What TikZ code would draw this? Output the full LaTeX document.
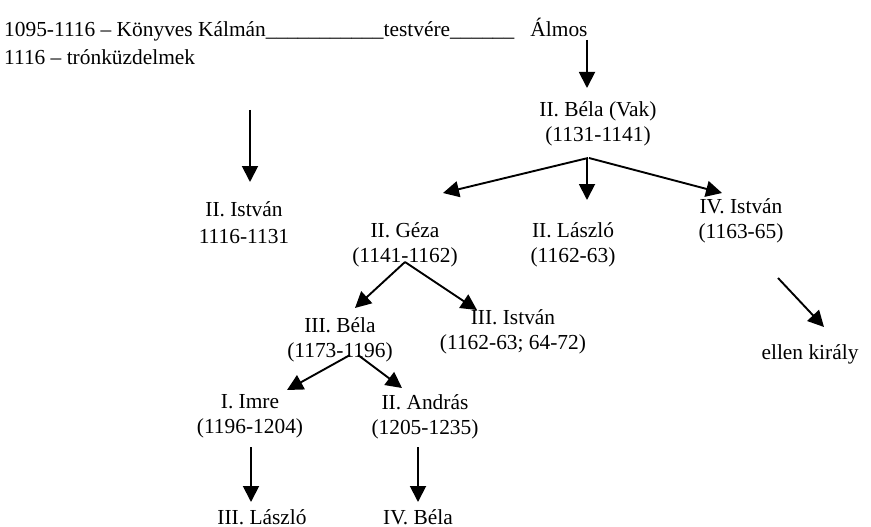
\documentclass[tikz,border=0pt]{standalone}
\usepackage{fontspec}
\setmainfont{Liberation Serif}
\usetikzlibrary{arrows.meta,calc}
\begin{document}
\begin{tikzpicture}[x=1pt,y=-1pt,
  lbl/.style={font=\fontsize{21.4}{25}\selectfont, inner sep=0pt, align=center},
  arr/.style={line width=1.9pt, -{Triangle[length=16pt,width=16pt]}}]
\useasboundingbox (0,0) rectangle (871,527);
% text nodes
\node[lbl, anchor=base west] (head1) at (4,37) {1095-1116 – Könyves Kálmán\_\_\_\_\_\_\_\_\_\_\_testvére\_\_\_\_\_\_};
\node[lbl, anchor=base west] (head2) at (4,65) {1116 – trónküzdelmek};
\node[lbl, anchor=base] (almos) at (559,37) {Álmos};
\node[lbl] (bela2) at (598,124) {II. Béla (Vak)\\(1131-1141)};
\node[lbl] (istvan2) at (244,222.5) {II. István\\[2pt]1116-1131};
\node[lbl] (geza) at (405,245) {II. Géza\\(1141-1162)};
\node[lbl] (laszlo2) at (573,245) {II. László\\(1162-63)};
\node[lbl] (istvan4) at (741,220.5) {IV. István\\(1163-65)};
\node[lbl] (bela3) at (340,339.5) {III. Béla\\(1173-1196)};
\node[lbl] (istvan3) at (513,331.5) {III. István\\(1162-63; 64-72)};
\node[lbl, anchor=base] (ellen) at (810,359) {ellen király};
\node[lbl] (imre) at (250,416.5) {I. Imre\\(1196-1204)};
\node[lbl] (andras) at (425,416.5) {II. András\\(1205-1235)};
\node[lbl, anchor=base] (laszlo3) at (262,524) {III. László};
\node[lbl, anchor=base] (bela4) at (418,524) {IV. Béla};
\coordinate (istvantop) at (250,110);
% connectors
\draw[arr] ($(almos.base)+(28,3)$) -- ($(bela2)+(-11,-36)$);
\draw[arr] ($(bela2)+(-10,34)$) -- ($(geza)+(38,-52)$);
\draw[arr] ($(bela2)+(-11,34)$) -- ($(laszlo2)+(14,-45)$);
\draw[arr] ($(bela2)+(-9,34)$) -- ($(istvan4)+(-19,-27.5)$);
\draw[arr] (istvantop) -- ($(istvan2)+(6,-40.5)$);
\draw[arr] ($(geza)+(0,17)$) -- ($(bela3)+(15,-31.5)$);
\draw[arr] ($(geza)+(0,17)$) -- ($(istvan3)+(-36,-21.5)$);
\draw[arr] ($(bela3)+(10,15.5)$) -- ($(imre)+(37,-26.5)$);
\draw[arr] ($(bela3)+(18,15.5)$) -- ($(andras)+(-23,-28.5)$);
\draw[arr] ($(istvan4)+(37,57.5)$) -- ($(ellen.base)+(14,-32)$);
\draw[arr] ($(imre)+(1,30.5)$) -- ($(laszlo3.base)+(-11,-22)$);
\draw[arr] ($(andras)+(-7,30.5)$) -- ($(bela4.base)+(0,-22)$);
\end{tikzpicture}
\end{document}
